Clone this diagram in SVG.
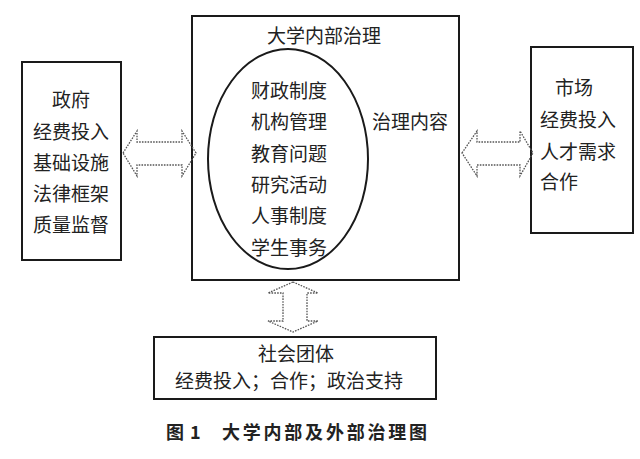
<svg xmlns="http://www.w3.org/2000/svg" width="640" height="459" viewBox="0 0 640 459">
<style>
.box{fill:none;stroke:#1a1a1a;stroke-width:2}
.t{font-family:"Noto Sans CJK SC","Noto Sans",sans-serif;font-size:19px;fill:#222}
.arr{fill:none;stroke:#555;stroke-width:1.3;stroke-dasharray:1.6 1.2}
.cap{font-family:"Noto Sans CJK SC","Noto Sans",sans-serif;font-size:18px;font-weight:bold;fill:#222}
</style>
<rect width="640" height="459" fill="#fff"/>
<g id="gov">
<rect class="box" x="22" y="62" width="99" height="198"/>
<text class="t" text-anchor="middle" x="71" y="107">政府</text>
<text class="t" text-anchor="middle" x="71" y="139">经费投入</text>
<text class="t" text-anchor="middle" x="71" y="170">基础设施</text>
<text class="t" text-anchor="middle" x="71" y="201">法律框架</text>
<text class="t" text-anchor="middle" x="71" y="232">质量监督</text>
</g>
<g id="university">
<rect class="box" x="192" y="16" width="267" height="264"/>
<text class="t" text-anchor="middle" x="324" y="43">大学内部治理</text>
<ellipse cx="288" cy="159" rx="80" ry="110" fill="none" stroke="#1a1a1a" stroke-width="2"/>
<text class="t" text-anchor="middle" x="289" y="98">财政制度</text>
<text class="t" text-anchor="middle" x="289" y="129">机构管理</text>
<text class="t" text-anchor="middle" x="289" y="161">教育问题</text>
<text class="t" text-anchor="middle" x="289" y="192">研究活动</text>
<text class="t" text-anchor="middle" x="289" y="223">人事制度</text>
<text class="t" text-anchor="middle" x="289" y="255">学生事务</text>
<text class="t" text-anchor="middle" x="410" y="129">治理内容</text>
</g>
<g id="market">
<rect class="box" x="531" y="47" width="102" height="186"/>
<text class="t" x="555" y="95">市场</text>
<text class="t" x="540" y="127">经费投入</text>
<text class="t" x="540" y="159">人才需求</text>
<text class="t" x="540" y="189">合作</text>
</g>
<g id="society">
<rect class="box" x="154" y="337" width="282" height="62"/>
<text class="t" text-anchor="middle" x="296" y="361">社会团体</text>
<text class="t" text-anchor="middle" x="289" y="388">经费投入；合作；政治支持</text>
</g>
<g id="connectors">
<polygon class="arr" points="123,153 137,131 137,142 182,142 182,131 196,153 182,176 182,165 137,165 137,176"/>
<polygon class="arr" points="462,153 477,131 477,142 520,142 520,131 533,153 520,176 520,165 477,165 477,176"/>
<polygon class="arr" points="293,282 318,293 307,293 307,321 318,321 293,332 268,321 283,321 283,293 268,293"/>
</g>
<g id="caption">
<text class="cap" x="166" y="439">图</text>
<text class="cap" x="190" y="439">1</text>
<text class="cap" x="222" y="439" textLength="205" lengthAdjust="spacing">大学内部及外部治理图</text>
</g>
</svg>
